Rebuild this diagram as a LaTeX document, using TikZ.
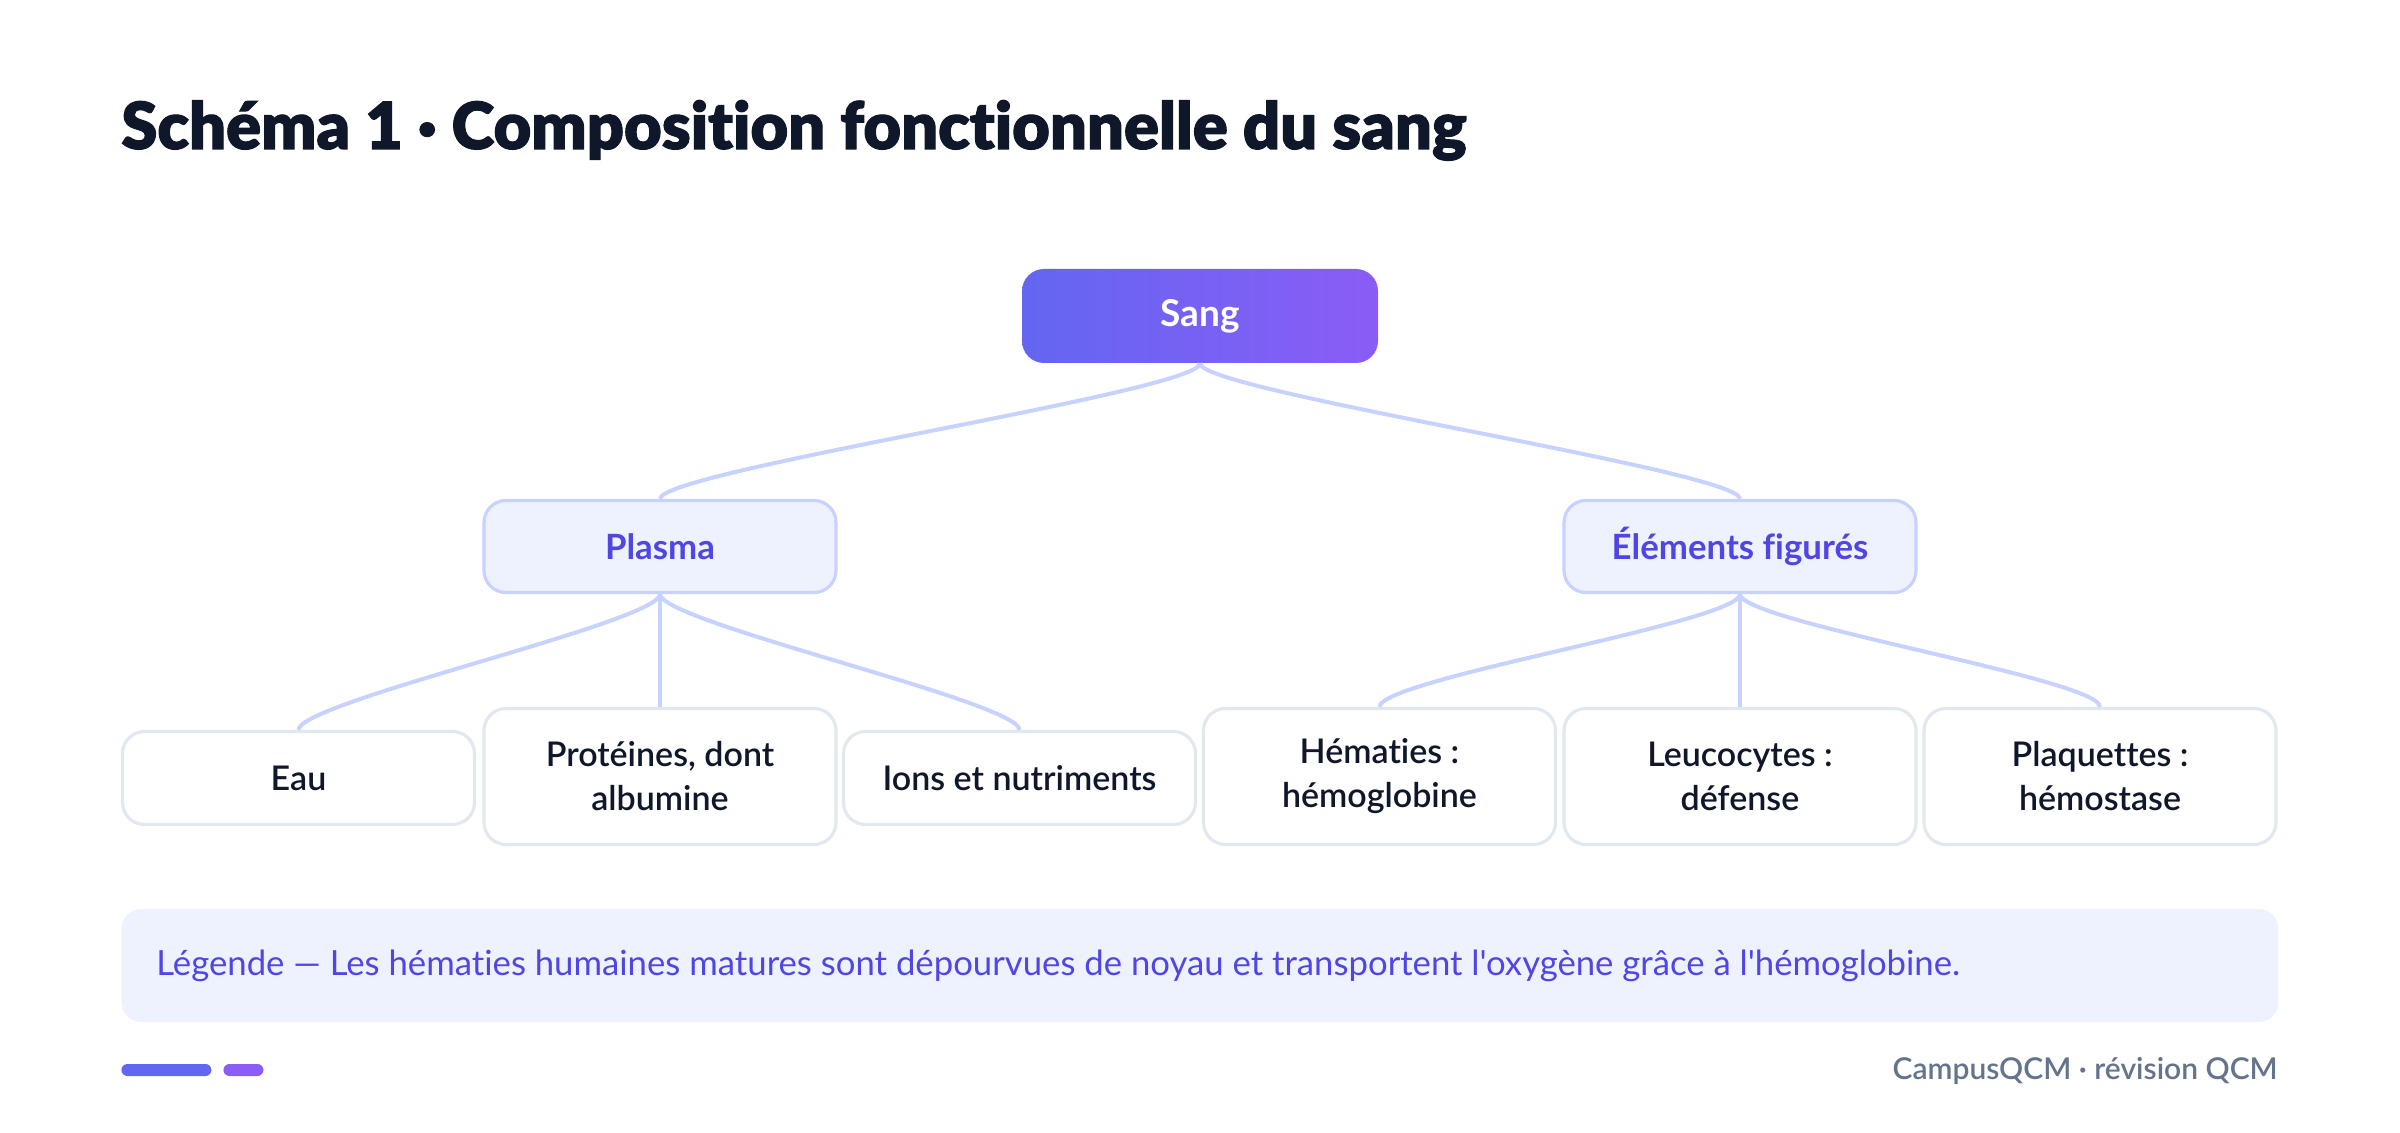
\documentclass[tikz,border=0pt]{standalone}
\usepackage{fontspec}
\setmainfont{Lato}[Ligatures={TeXOff,NoCommon}]
\newfontfamily\semifont{Lato Semibold}[Ligatures={TeXOff,NoCommon}]
\newfontfamily\blackfont{Lato Black}[Ligatures={TeXOff,NoCommon},FakeBold=1.6]
\definecolor{ink}{HTML}{0F172A}
\definecolor{indigo}{HTML}{4F46E5}
\definecolor{indA}{HTML}{6366F1}
\definecolor{vioB}{HTML}{8B5CF6}
\definecolor{paleFill}{HTML}{EEF2FF}
\definecolor{paleLine}{HTML}{C7D2FE}
\definecolor{leafLine}{HTML}{E2E8F0}
\definecolor{footGray}{HTML}{64748B}
\begin{document}
\begin{tikzpicture}[x=0.5pt,y=-0.5pt,
  sangbox/.style={rounded corners=11pt, minimum width=178pt, minimum height=47pt,
    left color=indA, right color=vioB, text=white,
    font=\bfseries\fontsize{18.5}{22}\selectfont},
  midbox/.style={rounded corners=11pt, minimum width=176pt, minimum height=46pt,
    fill=paleFill, draw=paleLine, line width=1.6pt, text=indigo,
    font=\bfseries\fontsize{17.4}{21}\selectfont},
  leafbox/.style={rounded corners=11pt, minimum width=176pt, minimum height=46.5pt,
    fill=white, draw=leafLine, line width=1.6pt, text=ink, align=center,
    font=\semifont\fontsize{17}{22}\selectfont},
  leaftall/.style={leafbox, minimum height=68pt},
  link/.style={draw=paleLine, line width=2pt}
]
\useasboundingbox[fill=white] (0,0) rectangle (2400,1133);

% title
\node[anchor=base west, inner sep=0pt, text=ink, font=\blackfont\fontsize{32.5}{38}\selectfont]
  (title) at (121,149) {Schéma 1 · Composition fonctionnelle du sang};

% nodes
\node[sangbox] (sang) at (1200,316) {Sang};
\node[midbox] (plasma) at (660,546.5) {Plasma};
\node[midbox] (elem) at (1740,546.5) {Éléments figurés};

\node[leafbox] (eau) at (298.5,778) {Eau};
\node[leaftall] (prot) at (660,776.5) {Protéines, dont\\albumine};
\node[leafbox] (ions) at (1019.5,778) {Ions et nutriments};
\node[leaftall] (hem) at (1379.5,776.5) {Hématies :\\hémoglobine};
\node[leaftall] (leuco) at (1740,776.5) {Leucocytes :\\défense};
\node[leaftall] (plaq) at (2100,776.5) {Plaquettes :\\hémostase};

% connectors
\draw[link] (sang.south) .. controls +(0,28) and +(0,-28) .. (plasma.north);
\draw[link] (sang.south) .. controls +(0,28) and +(0,-28) .. (elem.north);
\draw[link] (plasma.south) .. controls +(0,28) and +(0,-28) .. (eau.north);
\draw[link] (plasma.south) -- (prot.north);
\draw[link] (plasma.south) .. controls +(0,28) and +(0,-28) .. (ions.north);
\draw[link] (elem.south) .. controls +(0,28) and +(0,-28) .. (hem.north);
\draw[link] (elem.south) -- (leuco.north);
\draw[link] (elem.south) .. controls +(0,28) and +(0,-28) .. (plaq.north);

% legend
\node[anchor=west, fill=paleFill, rounded corners=10pt, minimum width=1078.5pt,
  minimum height=56.5pt, inner sep=0pt] (legend) at (121,965.5) {};
\node[anchor=west, inner sep=0pt, text=indigo, font=\fontsize{17.35}{21}\selectfont]
  (legtext) at ([xshift=17.5pt]legend.west)
  {Légende — Les hématies humaines matures sont dépourvues de noyau et transportent l'oxygène grâce à l'hémoglobine.};

% footer
\node[anchor=west, fill=indA, rounded corners=3pt, minimum width=45pt, minimum height=6pt,
  inner sep=0pt] (barA) at (121,1070) {};
\node[anchor=west, fill=vioB, rounded corners=3pt, minimum width=20pt, minimum height=6pt,
  inner sep=0pt] (barB) at (223,1070) {};
\node[anchor=east, inner sep=0pt, text=footGray, font=\semifont\fontsize{15}{18}\selectfont]
  (foot) at (2278,1071) {CampusQCM · révision QCM};
\end{tikzpicture}
\end{document}
